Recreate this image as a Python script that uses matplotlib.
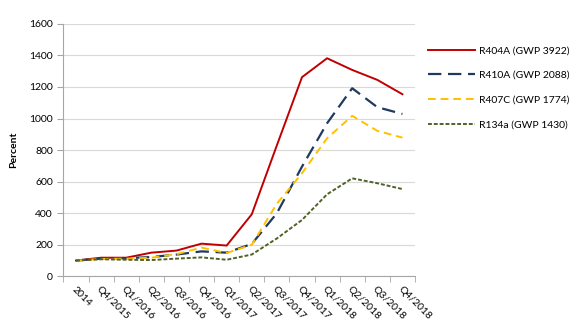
import numpy as np
import matplotlib.pyplot as plt

plt.rcParams['font.family'] = ['Lato', 'DejaVu Sans']

periods = ["2014", "Q4/2015", "Q1/2016", "Q2/2016", "Q3/2016", "Q4/2016", "Q1/2017",
           "Q2/2017", "Q3/2017", "Q4/2017", "Q1/2018", "Q2/2018", "Q3/2018", "Q4/2018"]
r404a = [100, 118, 118, 150, 163, 207, 195, 393, 830, 1262, 1382, 1308, 1245, 1154]
r410a = [100, 112, 115, 122, 138, 158, 150, 205, 400, 695, 970, 1192, 1072, 1029]
r407c = [100, 110, 112, 118, 140, 182, 148, 200, 460, 653, 875, 1017, 922, 879]
r134a = [100, 108, 105, 103, 112, 120, 105, 138, 240, 357, 520, 621, 590, 553]

fig = plt.figure(figsize=(5.82, 3.27), dpi=100)
ax = fig.add_axes([0.109, 0.155, 0.604, 0.772])

x = np.arange(len(periods))
ax.plot(x, r404a, color='#C00000', lw=1.4, label='R404A (GWP 3922)')
ax.plot(x, r410a, color='#1F3A5F', lw=1.6, dashes=(6, 3), label='R410A (GWP 2088)')
ax.plot(x, r407c, color='#FFC000', lw=1.4, dashes=(4, 2.5), label='R407C (GWP 1774)')
ax.plot(x, r134a, color='#4F6228', lw=1.4, dashes=(2, 1), label='R134a (GWP 1430)')

ax.set_xlim(-0.5, len(periods) - 0.5)
ax.set_ylim(0, 1600)
ax.set_yticks(range(0, 1601, 200))
ax.yaxis.grid(True, color='#D9D9D9', lw=0.8)
ax.set_axisbelow(True)

ax.set_xticks(x)
ax.set_xticklabels(periods, rotation=-45, ha='left', rotation_mode='anchor', fontsize=7.5)
ax.set_xticks(np.arange(-0.5, len(periods), 1), minor=True)
ax.tick_params(axis='x', which='major', length=0, pad=6)
ax.tick_params(axis='x', which='minor', length=4, color='#A6A6A6', direction='out')
ax.tick_params(axis='y', length=4, color='#A6A6A6', labelsize=7.5)

for s in ['top', 'right']:
    ax.spines[s].set_visible(False)
ax.spines['left'].set_color('#A6A6A6')
ax.spines['bottom'].set_color('#A6A6A6')

ax.set_ylabel('Percent', fontsize=7.5, fontweight='bold', labelpad=8)

ax.legend(loc='upper left', bbox_to_anchor=(1.01, 0.95), frameon=False, fontsize=7.5,
          handlelength=4.5, labelspacing=1.5, handletextpad=0.4)

fig.savefig('out.png', dpi=100)
